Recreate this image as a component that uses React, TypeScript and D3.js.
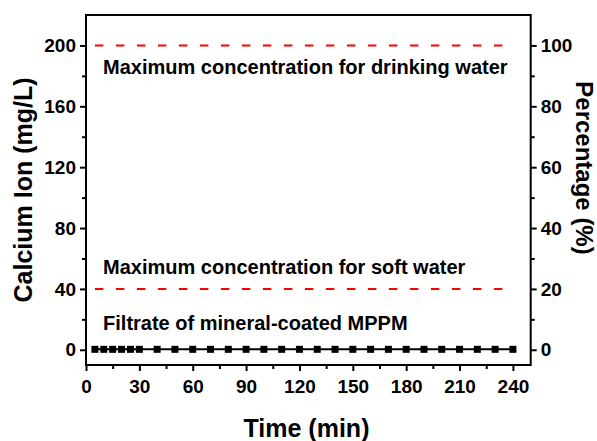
import { useEffect, useRef } from "react";
import * as d3 from "d3";

// time (min) and calcium ion (mg/L) of the filtrate
const times = [5, 10, 15, 20, 25, 30, 40, 50, 60, 70, 80, 90, 100, 110, 120, 130, 140, 150, 160, 170, 180, 190, 200, 210, 220, 230, 240];
const calcium = [0.3, 0.3, 0.3, 0.3, 0.3, 0.3, 0.3, 0.3, 0.3, 0.3, 0.3, 0.3, 0.3, 0.3, 0.3, 0.3, 0.3, 0.3, 0.3, 0.3, 0.3, 0.3, 0.3, 0.3, 0.3, 0.3, 0.3];

// reference limits (mg/L)
const limitValues = [200, 40];
const limitLabels = ["Maximum concentration for drinking water", "Maximum concentration for soft water"];
const limitLabelY = [181.5, 49.8];
const filtrateLabel = "Filtrate of mineral-coated MPPM";
const filtrateLabelY = 12.8;

const xTicks = [0, 30, 60, 90, 120, 150, 180, 210, 240];
const xMinor = [15, 45, 75, 105, 135, 165, 195, 225];
const yTicks = [0, 40, 80, 120, 160, 200];
const yMinor = [20, 60, 100, 140, 180];
const pTicks = [0, 20, 40, 60, 80, 100];
const pMinor = [10, 30, 50, 70, 90];

const W = 597;
const H = 441;
const FONT = "'Liberation Sans', Arial, sans-serif";

export default function App() {
  const ref = useRef<SVGSVGElement | null>(null);

  useEffect(() => {
    const svg = d3.select(ref.current);
    svg.selectAll("*").remove();

    const left = 86, right = 530.7, top = 15, bottom = 365;

    const x = d3.scaleLinear().domain([0, 250]).range([left, right]);
    const y = d3.scaleLinear().domain([-10, 220]).range([bottom, top]);
    const yp = d3.scaleLinear().domain([-5, 110]).range([bottom, top]);

    const styleAxis = (g: d3.Selection<SVGGElement, unknown, null, undefined>) => {
      g.select(".domain").remove();
      g.selectAll("line").attr("stroke", "#000").attr("stroke-width", 2);
      g.selectAll("text")
        .attr("font-family", FONT)
        .attr("font-weight", "bold")
        .attr("font-size", 19)
        .attr("fill", "#000");
    };

    // bottom axis
    svg.append("g")
      .attr("transform", `translate(0,${bottom})`)
      .call(d3.axisBottom(x).tickValues(xTicks).tickSize(6).tickPadding(9).tickFormat(d3.format("d")))
      .call(styleAxis);
    svg.append("g")
      .attr("transform", `translate(0,${bottom})`)
      .call(d3.axisBottom(x).tickValues(xMinor).tickSize(4).tickFormat(() => ""))
      .call(styleAxis);

    // left axis
    svg.append("g")
      .attr("transform", `translate(${left},0)`)
      .call(d3.axisLeft(y).tickValues(yTicks).tickSize(6).tickPadding(4).tickFormat(d3.format("d")))
      .call(styleAxis);
    svg.append("g")
      .attr("transform", `translate(${left},0)`)
      .call(d3.axisLeft(y).tickValues(yMinor).tickSize(4).tickFormat(() => ""))
      .call(styleAxis);

    // right axis
    svg.append("g")
      .attr("transform", `translate(${right},0)`)
      .call(d3.axisRight(yp).tickValues(pTicks).tickSize(6).tickPadding(4).tickFormat(d3.format("d")))
      .call(styleAxis);
    svg.append("g")
      .attr("transform", `translate(${right},0)`)
      .call(d3.axisRight(yp).tickValues(pMinor).tickSize(4).tickFormat(() => ""))
      .call(styleAxis);

    // frame
    svg.append("rect")
      .attr("x", left).attr("y", top)
      .attr("width", right - left).attr("height", bottom - top)
      .attr("fill", "none").attr("stroke", "#000").attr("stroke-width", 2);

    // limit lines
    svg.append("g")
      .selectAll("line")
      .data(limitValues)
      .join("line")
      .attr("x1", x(5)).attr("x2", x(240))
      .attr("y1", (d) => y(d)).attr("y2", (d) => y(d))
      .attr("stroke", "#ff0000").attr("stroke-width", 2)
      .attr("stroke-dasharray", "8.5,12.5");

    const labelX = x(9.6);
    svg.append("g")
      .selectAll("text")
      .data(limitLabels)
      .join("text")
      .attr("x", labelX)
      .attr("y", (_d, i) => y(limitLabelY[i]))
      .attr("font-family", FONT).attr("font-weight", "bold").attr("font-size", 20)
      .text((d) => d);

    svg.append("text")
      .attr("x", labelX)
      .attr("y", y(filtrateLabelY))
      .attr("font-family", FONT).attr("font-weight", "bold").attr("font-size", 20)
      .text(filtrateLabel);

    // data line + markers
    const pts = times.map((t, i) => [t, calcium[i]] as [number, number]);
    const line = d3.line<[number, number]>().x((d) => x(d[0])).y((d) => y(d[1]));
    svg.append("path")
      .attr("d", line(pts) as string)
      .attr("fill", "none").attr("stroke", "#000").attr("stroke-width", 2);
    const s = 7;
    svg.append("g")
      .selectAll("rect")
      .data(pts)
      .join("rect")
      .attr("x", (d) => x(d[0]) - s / 2)
      .attr("y", (d) => y(d[1]) - s / 2)
      .attr("width", s).attr("height", s)
      .attr("fill", "#000");

    // axis titles
    svg.append("text")
      .attr("transform", `translate(32,${(top + bottom) / 2}) rotate(-90)`)
      .attr("text-anchor", "middle")
      .attr("font-family", FONT).attr("font-weight", "bold").attr("font-size", 25)
      .text("Calcium Ion (mg/L)");

    svg.append("text")
      .attr("x", 306.5).attr("y", 436.5)
      .attr("text-anchor", "middle")
      .attr("font-family", FONT).attr("font-weight", "bold").attr("font-size", 25)
      .text("Time (min)");

    svg.append("text")
      .attr("transform", `translate(576,168) rotate(90)`)
      .attr("text-anchor", "middle")
      .attr("font-family", FONT).attr("font-weight", "bold").attr("font-size", 24)
      .text("Percentage (%)");
  }, []);

  return (
    <svg
      ref={ref}
      width={W}
      height={H}
      style={{ position: "absolute", left: 0, top: 0, background: "#fff" }}
    />
  );
}
